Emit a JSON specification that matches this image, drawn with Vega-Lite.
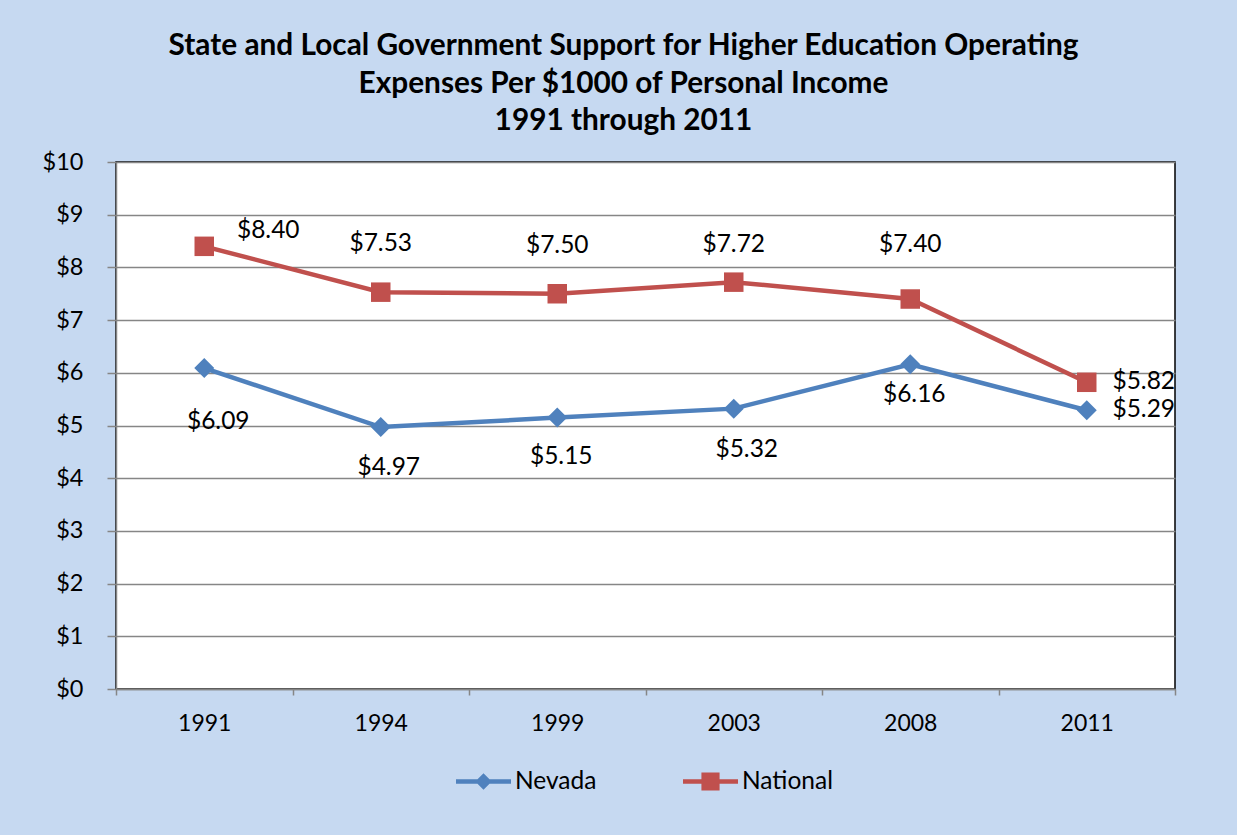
{
  "$schema": "https://vega.github.io/schema/vega-lite/v6.json",
  "width": 1059,
  "height": 527,
  "autosize": {"type": "none"},
  "padding": {"left": 116, "top": 162, "right": 62, "bottom": 146},
  "background": "#C6D9F1",
  "title": {
    "text": ["State and Local Government Support for Higher Education Operating", "Expenses Per $1000 of Personal Income", "1991 through 2011"],
    "font": "Lato",
    "fontSize": 29.8,
    "fontWeight": "bold",
    "color": "#000000",
    "anchor": "middle",
    "dx": -22,
    "offset": 14,
    "lineHeight": 37.5
  },
  "config": {
    "font": "Lato",
    "view": {"stroke": "#000000", "strokeWidth": 1.5, "fill": "#ffffff"}
  },
  "data": {
    "values": [
      {"year": "1991", "series": "Nevada", "value": 6.09},
      {"year": "1994", "series": "Nevada", "value": 4.97},
      {"year": "1999", "series": "Nevada", "value": 5.15},
      {"year": "2003", "series": "Nevada", "value": 5.32},
      {"year": "2008", "series": "Nevada", "value": 6.16},
      {"year": "2011", "series": "Nevada", "value": 5.29},
      {"year": "1991", "series": "National", "value": 8.40},
      {"year": "1994", "series": "National", "value": 7.53},
      {"year": "1999", "series": "National", "value": 7.50},
      {"year": "2003", "series": "National", "value": 7.72},
      {"year": "2008", "series": "National", "value": 7.40},
      {"year": "2011", "series": "National", "value": 5.82}
    ]
  },
  "encoding": {
    "x": {
      "field": "year",
      "type": "ordinal",
      "bandPosition": 0.5,
      "scale": {"type": "band", "paddingInner": 0, "paddingOuter": 0},
      "axis": {
        "title": null,
        "labelAngle": 0,
        "labelFont": "Lato",
        "labelFontSize": 23,
        "labelColor": "#000000",
        "labelPadding": 17,
        "tickSize": 6,
        "tickColor": "#868686",
        "tickWidth": 1.5,
        "domainColor": "#868686",
        "domainWidth": 1.5,
        "tickBand": "extent",
        "grid": false
      }
    },
    "y": {
      "field": "value",
      "type": "quantitative",
      "scale": {"domain": [0, 10], "nice": false},
      "axis": {
        "title": null,
        "values": [0, 1, 2, 3, 4, 5, 6, 7, 8, 9, 10],
        "format": "$.0f",
        "labelFont": "Lato",
        "labelFontSize": 23.5,
        "labelColor": "#000000",
        "labelPadding": 24,
        "tickSize": 9,
        "tickColor": "#868686",
        "tickWidth": 1.5,
        "domainColor": "#868686",
        "domainWidth": 1.5,
        "grid": true,
        "gridColor": "#868686",
        "gridWidth": 1.5
      }
    }
  },
  "layer": [
    {
      "mark": {"type": "line", "strokeWidth": 4.5},
      "encoding": {
        "color": {
          "field": "series",
          "type": "nominal",
          "scale": {"domain": ["Nevada", "National"], "range": ["#4F81BD", "#C0504D"]},
          "legend": {
            "orient": "none",
            "direction": "horizontal",
            "legendX": 340,
            "legendY": 592,
            "title": null,
            "padding": 0,
            "symbolType": "M-1,-0.08H1V0.08H-1Z",
            "symbolSize": 3025,
            "symbolStrokeWidth": 0,
            "labelFont": "Lato",
            "labelFontSize": 24.5,
            "labelColor": "#000000",
            "labelOffset": 4,
            "columnPadding": 86,
            "encode": {
              "symbols": {
                "update": {
                  "shape": {"signal": "datum.value === 'Nevada' ? 'M-1,-0.08H1V0.08H-1Z M-0.3,0L0,-0.3L0.3,0L0,0.3Z' : 'M-1,-0.08H1V0.08H-1Z M-0.33,-0.33H0.33V0.33H-0.33Z'"},
                  "fill": {"signal": "datum.value === 'Nevada' ? '#4F81BD' : '#C0504D'"},
                  "fillOpacity": {"value": 1},
                  "strokeWidth": {"value": 0},
                  "opacity": {"value": 1}
                }
              }
            }
          }
        },
        "detail": {"field": "series"}
      }
    },
    {
      "transform": [{"filter": "datum.series === 'Nevada'"}],
      "mark": {"type": "point", "filled": true, "opacity": 1, "shape": "diamond", "size": 400, "color": "#4F81BD"}
    },
    {
      "transform": [{"filter": "datum.series === 'National'"}],
      "mark": {"type": "point", "filled": true, "opacity": 1, "shape": "square", "size": 380, "color": "#C0504D"}
    },
    {
      "transform": [{"filter": "datum.series === 'National' && datum.year === '1991'"}],
      "mark": {"type": "text", "fontSize": 24.5, "color": "#000000", "dx": 64, "dy": -15},
      "encoding": {"text": {"field": "value", "type": "quantitative", "format": "$.2f"}}
    },
    {
      "transform": [{"filter": "datum.series === 'National' && (datum.year === '1994' || datum.year === '1999')"}],
      "mark": {"type": "text", "fontSize": 24.5, "color": "#000000", "dy": -48},
      "encoding": {"text": {"field": "value", "type": "quantitative", "format": "$.2f"}}
    },
    {
      "transform": [{"filter": "datum.series === 'National' && datum.year === '2003'"}],
      "mark": {"type": "text", "fontSize": 24.5, "color": "#000000", "dy": -37},
      "encoding": {"text": {"field": "value", "type": "quantitative", "format": "$.2f"}}
    },
    {
      "transform": [{"filter": "datum.series === 'National' && datum.year === '2008'"}],
      "mark": {"type": "text", "fontSize": 24.5, "color": "#000000", "dy": -54},
      "encoding": {"text": {"field": "value", "type": "quantitative", "format": "$.2f"}}
    },
    {
      "transform": [{"filter": "datum.year === '2011'"}],
      "mark": {"type": "text", "fontSize": 24.5, "color": "#000000", "dx": 57, "dy": 0},
      "encoding": {"text": {"field": "value", "type": "quantitative", "format": "$.2f"}}
    },
    {
      "transform": [{"filter": "datum.series === 'Nevada' && datum.year === '1991'"}],
      "mark": {"type": "text", "fontSize": 24.5, "color": "#000000", "dx": 14, "dy": 54},
      "encoding": {"text": {"field": "value", "type": "quantitative", "format": "$.2f"}}
    },
    {
      "transform": [{"filter": "datum.series === 'Nevada' && datum.year === '1994'"}],
      "mark": {"type": "text", "fontSize": 24.5, "color": "#000000", "dx": 8, "dy": 41},
      "encoding": {"text": {"field": "value", "type": "quantitative", "format": "$.2f"}}
    },
    {
      "transform": [{"filter": "datum.series === 'Nevada' && datum.year === '1999'"}],
      "mark": {"type": "text", "fontSize": 24.5, "color": "#000000", "dx": 4, "dy": 39},
      "encoding": {"text": {"field": "value", "type": "quantitative", "format": "$.2f"}}
    },
    {
      "transform": [{"filter": "datum.series === 'Nevada' && datum.year === '2003'"}],
      "mark": {"type": "text", "fontSize": 24.5, "color": "#000000", "dx": 13, "dy": 41},
      "encoding": {"text": {"field": "value", "type": "quantitative", "format": "$.2f"}}
    },
    {
      "transform": [{"filter": "datum.series === 'Nevada' && datum.year === '2008'"}],
      "mark": {"type": "text", "fontSize": 24.5, "color": "#000000", "dx": 4, "dy": 31},
      "encoding": {"text": {"field": "value", "type": "quantitative", "format": "$.2f"}}
    }
  ]
}
